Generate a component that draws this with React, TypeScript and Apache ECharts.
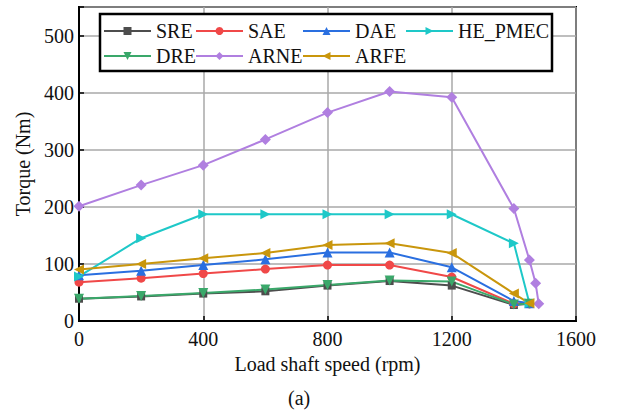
import React, { useEffect, useRef } from "react";
import * as echarts from "echarts";

const speedsMain = [0, 200, 400, 600, 800, 1000, 1200, 1400, 1450];
const speedsARNE = [0, 200, 400, 600, 800, 1000, 1200, 1400, 1450, 1470, 1480];

const SRE = [39, 43, 48, 52, 62, 70, 62, 28, 30];
const SAE = [68, 75, 83, 91, 98, 98, 77, 30, 30];
const DAE = [80, 88, 98, 108, 120, 120, 94, 35, 31];
const HE_PMEC = [78, 145, 187, 187, 187, 187, 187, 136, 31];
const DRE = [39, 44, 49, 55, 63, 71, 69, 29, 30];
const ARNE = [201, 238, 273, 318, 365, 402, 392, 197, 107, 66, 30];
const ARFE = [90, 100, 110, 119, 133, 136, 119, 48, 31];

const xTicks = [0, 400, 800, 1200, 1600];
const yTicks = [0, 100, 200, 300, 400, 500];

const FONT = "Liberation Serif, Times New Roman, serif";

type S = { name: string; xs: number[]; ys: number[]; color: string; symbol: string; rotate?: number; size?: number };

const seriesDefs: S[] = [
  { name: "SRE", xs: speedsMain, ys: SRE, color: "#4d4d4d", symbol: "rect", size: 8 },
  { name: "SAE", xs: speedsMain, ys: SAE, color: "#f04848", symbol: "circle", size: 9 },
  { name: "DAE", xs: speedsMain, ys: DAE, color: "#2a6fe0", symbol: "triangle", size: 10 },
  { name: "HE_PMEC", xs: speedsMain, ys: HE_PMEC, color: "#1ec8c8", symbol: "triangle", rotate: -90, size: 10 },
  { name: "DRE", xs: speedsMain, ys: DRE, color: "#3aa86a", symbol: "triangle", rotate: 180, size: 10 },
  { name: "ARNE", xs: speedsARNE, ys: ARNE, color: "#b07fe0", symbol: "diamond", size: 11 },
  { name: "ARFE", xs: speedsMain, ys: ARFE, color: "#c9960c", symbol: "triangle", rotate: 90, size: 10 },
];

const legendCols = [
  { names: ["SRE", "DRE"], left: 103 },
  { names: ["SAE", "ARNE"], left: 195 },
  { names: ["DAE", "ARFE"], left: 302 },
  { names: ["HE_PMEC"], left: 405 },
];

export default function App() {
  const ref = useRef<HTMLDivElement>(null);
  useEffect(() => {
    if (!ref.current) return;
    const chart = echarts.init(ref.current, undefined, { renderer: "svg" });
    const option: any = {
      animation: false,
      backgroundColor: "#fff",
      textStyle: { fontFamily: FONT },
      grid: {
        left: 79,
        right: 42,
        top: 7,
        bottom: 93,
        show: true,
        borderColor: "#000",
        borderWidth: 2,
        containLabel: false,
      },
      xAxis: {
        type: "value",
        min: 0,
        max: 1600,
        interval: 400,
        name: "Load shaft speed (rpm)",
        nameLocation: "middle",
        nameGap: 26,
        nameTextStyle: { fontFamily: FONT, fontSize: 20, color: "#111" },
        axisLine: { show: true, lineStyle: { color: "#000", width: 2 } },
        axisTick: { show: true, inside: true, length: 5, lineStyle: { color: "#000", width: 1.5 } },
        axisLabel: {
          fontFamily: FONT,
          fontSize: 20,
          color: "#111",
          margin: 8,
          formatter: (v: number) => (xTicks.includes(v) ? String(v) : ""),
        },
        splitLine: { show: true, lineStyle: { color: "#a8a8a8", width: 1.5 } },
      },
      yAxis: {
        type: "value",
        min: 0,
        max: 550,
        interval: 100,
        name: "Torque (Nm)",
        nameLocation: "middle",
        nameGap: 45,
        nameTextStyle: { fontFamily: FONT, fontSize: 20, color: "#111" },
        axisLine: { show: true, lineStyle: { color: "#000", width: 2 } },
        axisTick: { show: true, inside: true, length: 5, lineStyle: { color: "#000", width: 1.5 } },
        axisLabel: {
          fontFamily: FONT,
          fontSize: 20,
          color: "#111",
          margin: 5,
          formatter: (v: number) => (yTicks.includes(v) ? String(v) : ""),
        },
        splitLine: { show: true, lineStyle: { color: "#a8a8a8", width: 1.5 } },
      },
      legend: legendCols.map((c) => ({
        data: c.names,
        orient: "vertical",
        left: c.left,
        top: 21,
        padding: 0,
        itemGap: 5,
        itemWidth: 47,
        itemHeight: 10,
        z: 10,
        textStyle: { fontFamily: FONT, fontSize: 20, color: "#111", lineHeight: 20 },
      })),
      graphic: [
        {
          type: "rect",
          z: 5,
          shape: { x: 100, y: 14, width: 452, height: 57 },
          style: { fill: "#fff", stroke: "#000", lineWidth: 2.5 },
        },
        {
          type: "text",
          left: 288,
          top: 388,
          style: { text: "(a)", font: `20px ${FONT}`, fill: "#111" },
        },
      ],
      series: seriesDefs.map((s) => ({
        name: s.name,
        type: "line",
        data: s.xs.map((x, i) => [x, s.ys[i]]),
        symbol: s.symbol,
        symbolSize: s.size ?? 9,
        symbolRotate: s.rotate ?? 0,
        color: s.color,
        lineStyle: { width: 2, color: s.color },
        itemStyle: { color: s.color },
        z: 2,
      })),
    };
    chart.setOption(option);
    return () => chart.dispose();
  }, []);
  return <div ref={ref} style={{ width: 618, height: 414, position: "absolute", left: 0, top: 0 }} />;
}
